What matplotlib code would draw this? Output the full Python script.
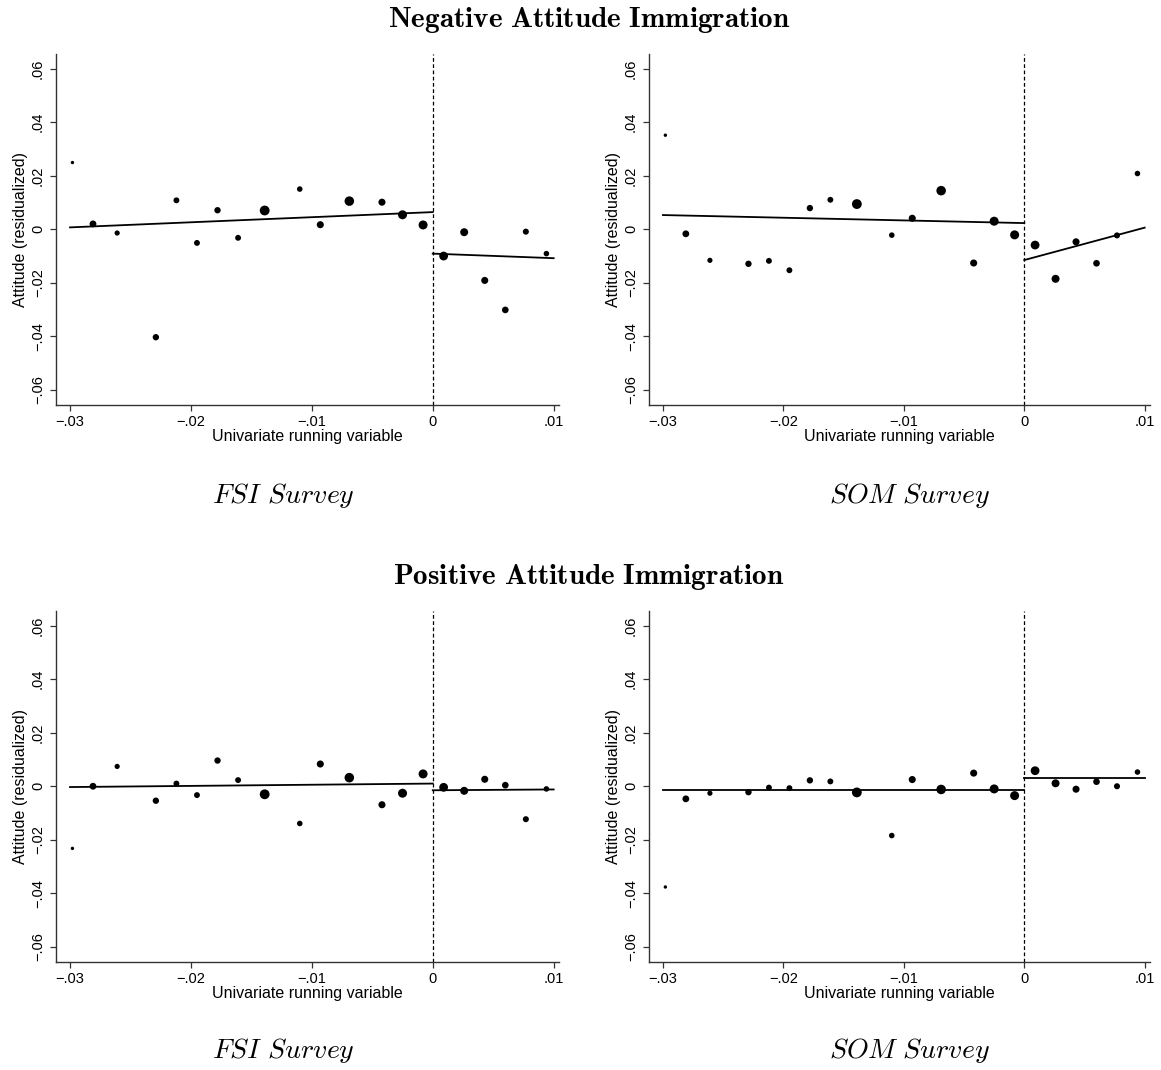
import numpy as np
import matplotlib
matplotlib.use("Agg")
import matplotlib.pyplot as plt

plt.rcParams["font.family"] = ["Liberation Sans", "DejaVu Sans"]
plt.rcParams["mathtext.fontset"] = "cm"

# bin midpoints of the running variable (same in all four panels)
bins_left = [-0.0298, -0.0281, -0.0261, -0.0229, -0.0212, -0.0195, -0.0178, -0.0161,
             -0.0139, -0.0110, -0.0093, -0.0069, -0.0042, -0.0025, -0.0008]
bins_right = [0.0009, 0.0026, 0.0043, 0.0060, 0.0077, 0.0094]

# marker weights per bin (scatter area)
size_left = [6, 24, 14, 21, 18, 18, 21, 18, 50, 16, 26, 47, 26, 42, 42]
size_right = [40, 33, 26, 23, 19, 16]

# Negative attitude, FSI survey
neg_fsi_left = [0.0249, 0.0020, -0.0014, -0.0403, 0.0108, -0.0051, 0.0071, -0.0032,
                0.0070, 0.0150, 0.0017, 0.0105, 0.0101, 0.0054, 0.0016]
neg_fsi_right = [-0.0100, -0.0011, -0.0191, -0.0301, -0.0009, -0.0091]
neg_fsi_fit = [(0.0007, 0.0064), (-0.0091, -0.0108)]

# Negative attitude, SOM survey
neg_som_left = [0.0351, -0.0017, -0.0116, -0.0129, -0.0118, -0.0153, 0.0079, 0.0110,
                0.0094, -0.0022, 0.0041, 0.0144, -0.0126, 0.0030, -0.0021]
neg_som_right = [-0.0059, -0.0185, -0.0047, -0.0127, -0.0023, 0.0208]
neg_som_fit = [(0.0053, 0.0023), (-0.0115, 0.0006)]

# Positive attitude, FSI survey
pos_fsi_left = [-0.0232, 0.0000, 0.0074, -0.0054, 0.0010, -0.0033, 0.0096, 0.0023,
                -0.0030, -0.0139, 0.0083, 0.0032, -0.0069, -0.0026, 0.0046]
pos_fsi_right = [-0.0004, -0.0017, 0.0026, 0.0004, -0.0123, -0.0010]
pos_fsi_fit = [(-0.0003, 0.0010), (-0.0015, -0.0012)]

# Positive attitude, SOM survey
pos_som_left = [-0.0376, -0.0047, -0.0026, -0.0022, -0.0005, -0.0007, 0.0022, 0.0018,
                -0.0023, -0.0184, 0.0025, -0.0012, 0.0049, -0.0010, -0.0035]
pos_som_right = [0.0058, 0.0011, -0.0011, 0.0017, 0.0000, 0.0053]
pos_som_fit = [(-0.0013, -0.0013), (0.0031, 0.0031)]

xticks = [-0.03, -0.02, -0.01, 0, 0.01]
xtick_labels = ["\u2212.03", "\u2212.02", "\u2212.01", "0", ".01"]
yticks = [-0.06, -0.04, -0.02, 0, 0.02, 0.04, 0.06]
ytick_labels = ["\u2212.06", "\u2212.04", "\u2212.02", "0", ".02", ".04", ".06"]

W, H = 1161, 1070
fig = plt.figure(figsize=(W / 100, H / 100), dpi=100)


def panel(rect, left_y, right_y, fit):
    ax = fig.add_axes(rect)
    ax.scatter(bins_left, left_y, s=size_left, color="black", zorder=3, linewidths=0)
    ax.scatter(bins_right, right_y, s=size_right, color="black", zorder=3, linewidths=0)
    ax.plot([-0.03, 0], fit[0], color="black", lw=1.3)
    ax.plot([0, 0.01], fit[1], color="black", lw=1.3)
    ax.axvline(0, color="black", lw=0.9, ls=(0, (3, 2)))
    ax.set_xlim(-0.0312, 0.0104)
    ax.set_ylim(-0.0656, 0.0656)
    ax.set_xticks(xticks)
    ax.set_xticklabels(xtick_labels)
    ax.set_yticks(yticks)
    ax.set_yticklabels(ytick_labels, rotation=90, va="center")
    ax.tick_params(direction="out", length=4, width=0.9, color="#333333",
                   labelsize=10.5)
    ax.tick_params(axis="x", pad=3)
    ax.tick_params(axis="y", pad=3.5)
    for s in ["top", "right"]:
        ax.spines[s].set_visible(False)
    for s in ["left", "bottom"]:
        ax.spines[s].set_color("#333333")
        ax.spines[s].set_linewidth(1.0)
    ax.set_xlabel("Univariate running variable", fontsize=11.5, labelpad=0)
    ax.set_ylabel("Attitude (residualized)", fontsize=11.5, labelpad=2)
    return ax


panel([55.5 / W, 1 - 405 / H, 503 / W, 351.5 / H], neg_fsi_left, neg_fsi_right, neg_fsi_fit)
panel([648.5 / W, 1 - 405 / H, 501 / W, 351.5 / H], neg_som_left, neg_som_right, neg_som_fit)
panel([55.5 / W, 1 - 962 / H, 503 / W, 351.5 / H], pos_fsi_left, pos_fsi_right, pos_fsi_fit)
panel([648.5 / W, 1 - 962 / H, 501 / W, 351.5 / H], pos_som_left, pos_som_right, pos_som_fit)

fig.text(589 / W, 1 - 27 / H, r"$\mathbf{Negative\ Attitude\ Immigration}$",
         ha="center", va="baseline", fontsize=21)
fig.text(589 / W, 1 - 584 / H, r"$\mathbf{Positive\ Attitude\ Immigration}$",
         ha="center", va="baseline", fontsize=21)
for y in [503, 1058]:
    fig.text(283 / W, 1 - y / H, r"$\mathit{FSI\ Survey}$", ha="center", va="baseline", fontsize=20)
    fig.text(909 / W, 1 - y / H, r"$\mathit{SOM\ Survey}$", ha="center", va="baseline", fontsize=20)

fig.savefig("out.png", dpi=100, facecolor="white")
